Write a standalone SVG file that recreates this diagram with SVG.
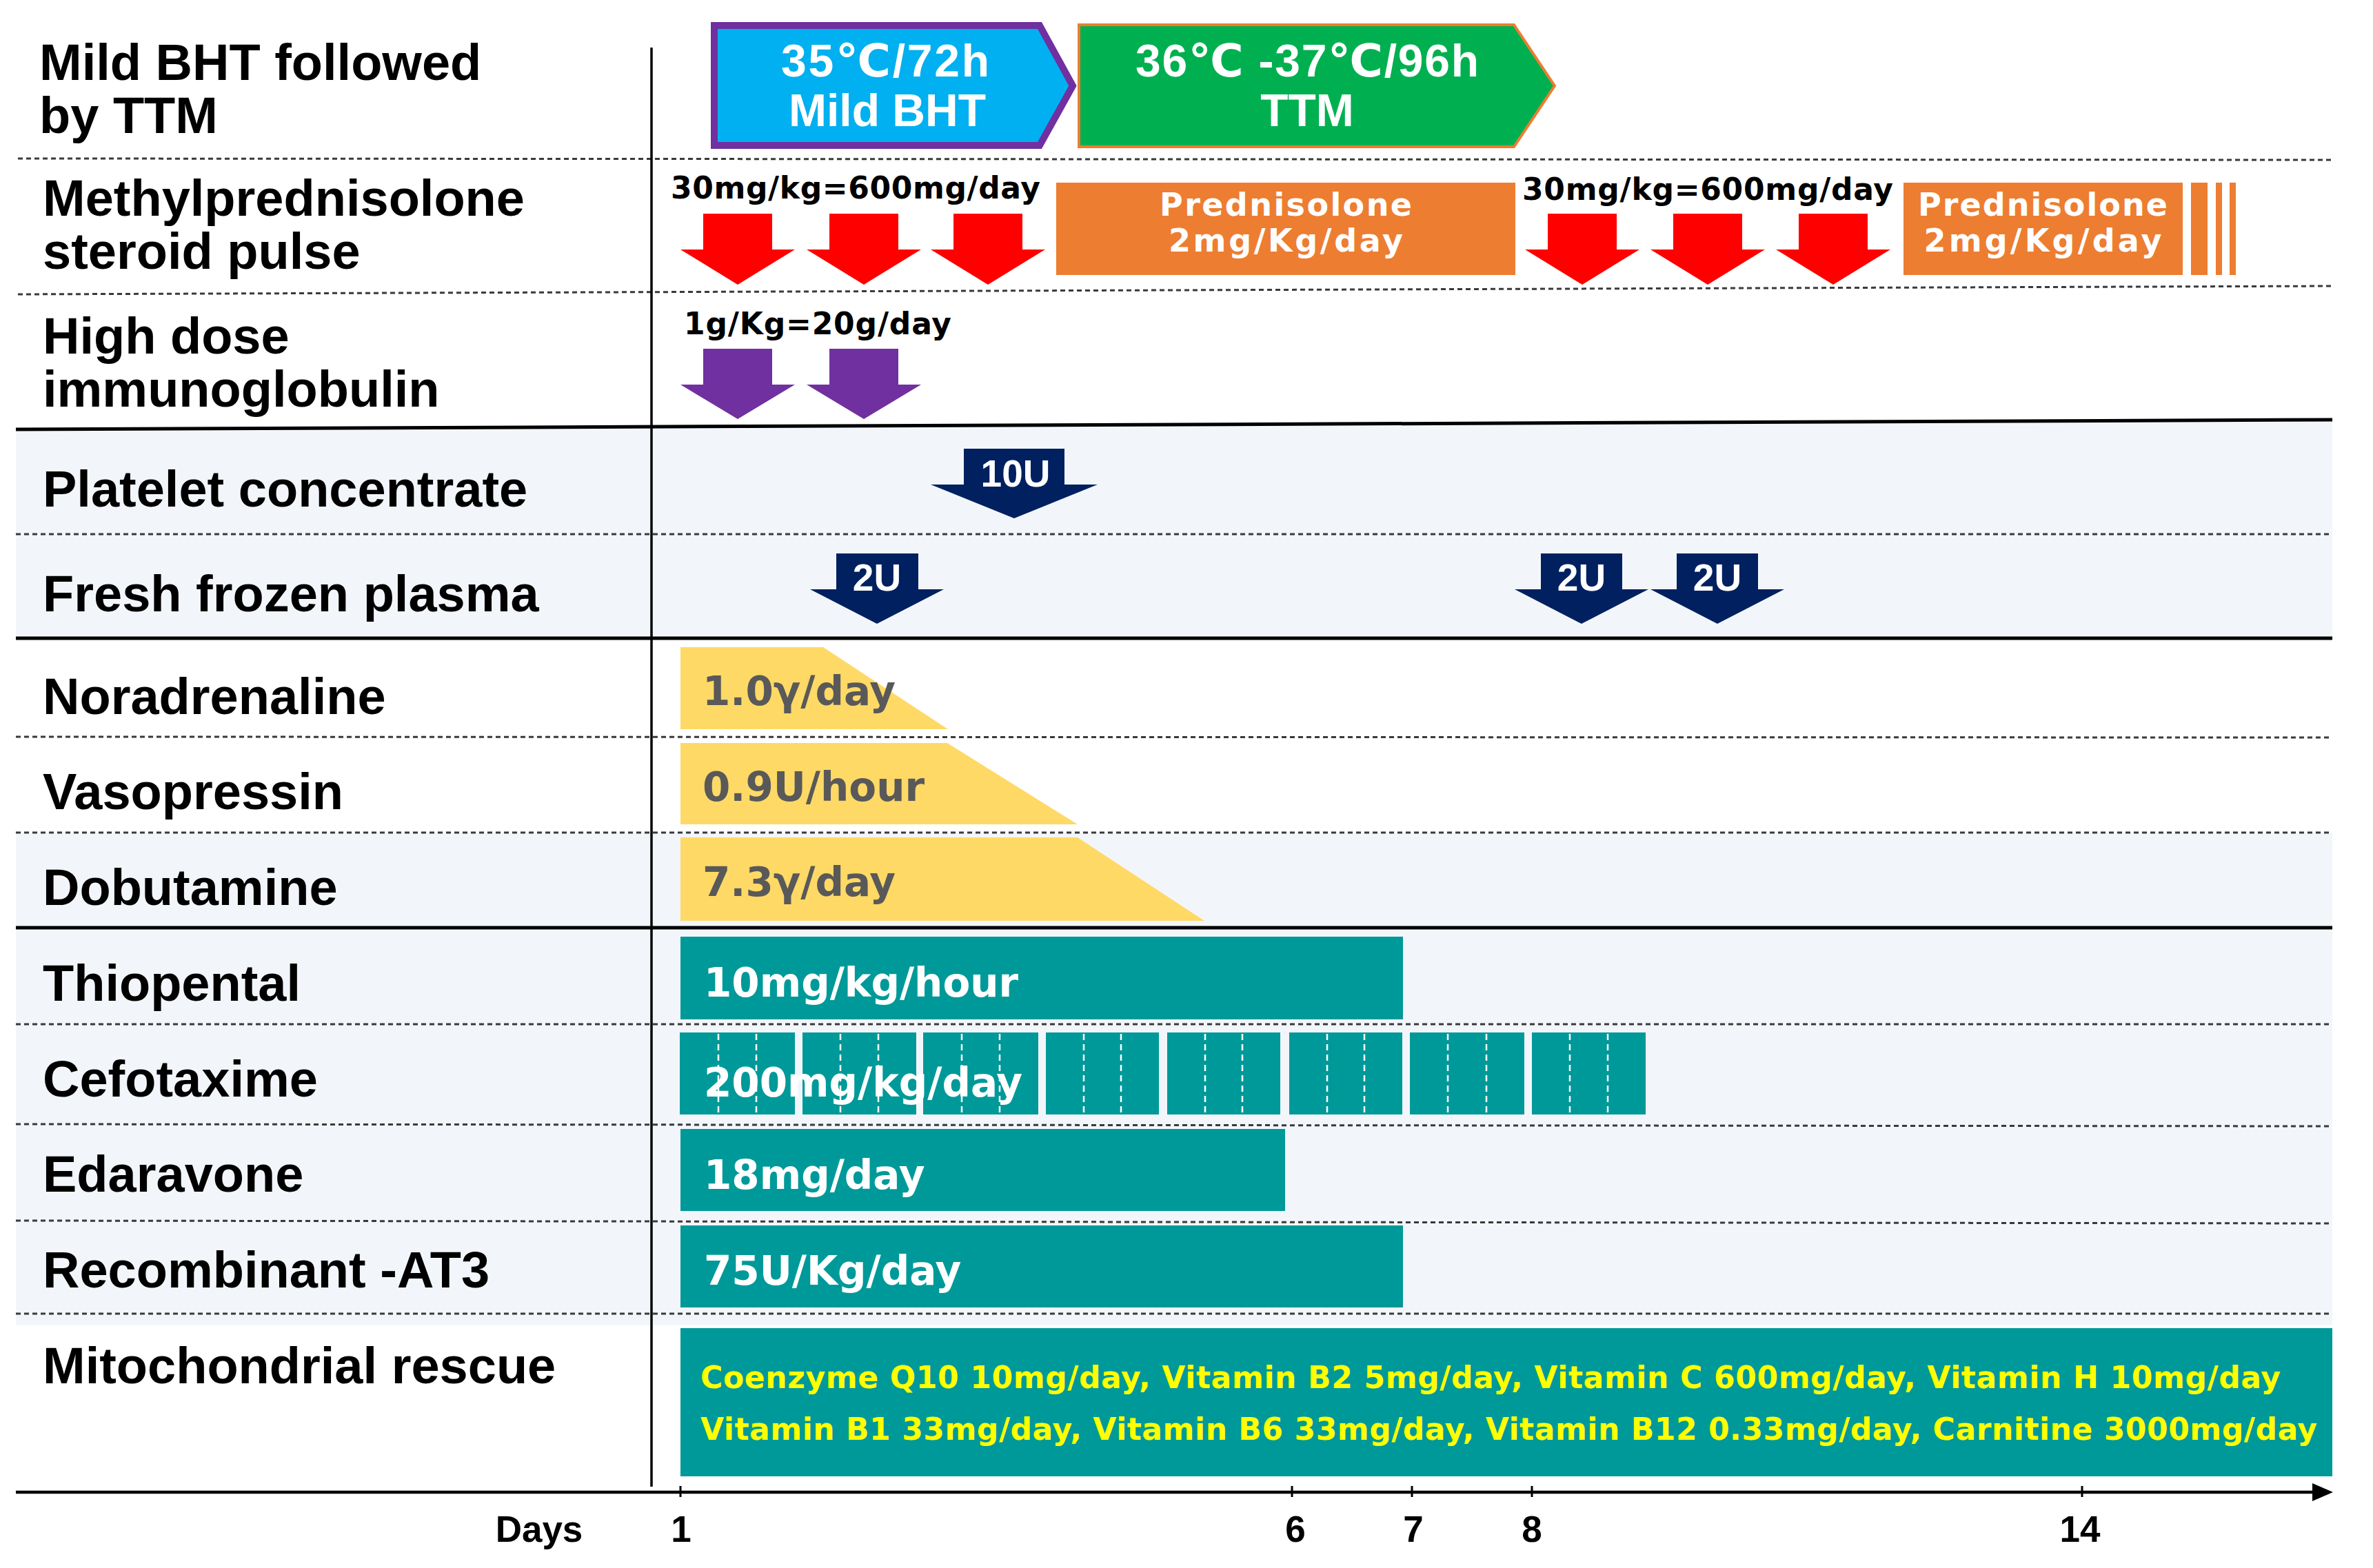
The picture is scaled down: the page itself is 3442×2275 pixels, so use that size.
<svg xmlns="http://www.w3.org/2000/svg" width="3442" height="2275" viewBox="0 0 3442 2275">
<defs>
<style>
.lbl{font-family:"Liberation Sans","DejaVu Sans",sans-serif;font-weight:bold;font-size:74px;fill:#000}
.val{font-family:"DejaVu Sans","Liberation Sans",sans-serif;font-weight:bold;font-size:58px;fill:#fff}
.yel{font-family:"DejaVu Sans","Liberation Sans",sans-serif;font-weight:bold;font-size:58px;fill:#595959}
.dose{font-family:"DejaVu Sans","Liberation Sans",sans-serif;font-weight:bold;font-size:44px;fill:#000}
.mito{font-family:"DejaVu Sans","Liberation Sans",sans-serif;font-weight:bold;font-size:44px;fill:#FFFF00}
.pent{font-family:"Liberation Sans","DejaVu Sans",sans-serif;font-weight:bold;font-size:66px;fill:#fff;text-anchor:middle}
.pred{font-family:"DejaVu Sans","Liberation Sans",sans-serif;font-weight:bold;font-size:46px;fill:#fff;text-anchor:middle}
.arl{font-family:"Liberation Sans","DejaVu Sans",sans-serif;font-weight:bold;font-size:55px;fill:#fff;text-anchor:middle}
.tick{font-family:"Liberation Sans","DejaVu Sans",sans-serif;font-weight:bold;font-size:53px;fill:#000;text-anchor:middle}
.dot{stroke:#3a3a3a;stroke-width:3;stroke-dasharray:7 5;fill:none}
.thick{stroke:#000;stroke-width:5;fill:none}
.bg{fill:#F2F6FB}
.teal{fill:#009999}
.red{fill:#FF0000}
.pur{fill:#7030A0}
.navy{fill:#002060}
.gold{fill:#FFD966}
.org{fill:#ED7D31}
.wd{stroke:#fff;stroke-width:2.5;stroke-dasharray:9 6;fill:none}
</style>
<marker id="axhead" markerUnits="userSpaceOnUse" markerWidth="30" markerHeight="26" viewBox="0 0 30 26" refX="0" refY="13" orient="auto">
<path d="M0,0 L30,13 L0,26 Z" fill="#000"/>
</marker>
</defs>
<rect x="0" y="0" width="3442" height="2275" fill="#fff"/>

<g id="backgrounds">
<polygon class="bg" points="23,623 3383,609 3383,926 23,926"/>
<rect class="bg" x="23" y="1208" width="3360" height="715"/>
</g>

<g id="grid">
<line class="dot" x1="26" y1="230" x2="3383" y2="232"/>
<line class="dot" x1="26" y1="427" x2="3383" y2="415"/>
<line class="dot" x1="23" y1="775" x2="3383" y2="775"/>
<line class="dot" x1="23" y1="1069" x2="3383" y2="1070"/>
<line class="dot" x1="23" y1="1208" x2="3383" y2="1208"/>
<line class="dot" x1="23" y1="1486" x2="3383" y2="1486"/>
<line class="dot" x1="23" y1="1631" x2="3383" y2="1634"/>
<line class="dot" x1="23" y1="1771" x2="3383" y2="1775"/>
<line class="dot" x1="23" y1="1906" x2="3383" y2="1906"/>
<line class="thick" x1="23" y1="623" x2="3383" y2="609"/>
<line class="thick" x1="23" y1="926" x2="3383" y2="926"/>
<line class="thick" x1="23" y1="1346" x2="3383" y2="1346"/>
<line stroke="#000" stroke-width="3.5" x1="945" y1="69" x2="945" y2="2157"/>
</g>

<g id="row-bht">
<text class="lbl" x="57" y="116">Mild BHT followed</text>
<text class="lbl" x="57" y="193">by TTM</text>
<path d="M1036,37 L1508,37 L1556,124.5 L1508,211 L1036,211 Z" fill="#00B0F0" stroke="#7030A0" stroke-width="10"/>
<text class="pent" x="1284" y="111" textLength="302">35℃/72h</text>
<text class="pent" x="1287" y="183">Mild BHT</text>
<path d="M1565,36 L2196,36 L2255,124.5 L2196,213 L1565,213 Z" fill="#00B050" stroke="#ED7D31" stroke-width="4"/>
<text class="pent" x="1896" y="111" textLength="498">36℃ -37℃/96h</text>
<text class="pent" x="1896" y="183">TTM</text>
</g>

<g id="row-methylpred">
<text class="lbl" x="62" y="313">Methylprednisolone</text>
<text class="lbl" x="62" y="390">steroid pulse</text>
<text class="dose" x="973" y="288" textLength="536">30mg/kg=600mg/day</text>
<path class="red" d="M1020,310 H1120 V362 H1153 L1070,413 L987,362 H1020 Z"/>
<path class="red" d="M1203,310 H1303 V362 H1336 L1253,413 L1170,362 H1203 Z"/>
<path class="red" d="M1383,310 H1483 V362 H1516 L1433,413 L1350,362 H1383 Z"/>
<rect class="org" x="1532" y="265" width="666" height="134"/>
<text class="pred" x="1865" y="313" textLength="366">Prednisolone</text>
<text class="pred" x="1865" y="365" textLength="340">2mg/Kg/day</text>
<text class="dose" x="2208" y="290" textLength="538">30mg/kg=600mg/day</text>
<path class="red" d="M2245,310 H2345 V362 H2378 L2295,413 L2212,362 H2245 Z"/>
<path class="red" d="M2427,310 H2527 V362 H2560 L2477,413 L2394,362 H2427 Z"/>
<path class="red" d="M2609,310 H2709 V362 H2742 L2659,413 L2576,362 H2609 Z"/>
<rect class="org" x="2761" y="265" width="405" height="134"/>
<rect class="org" x="3178" y="265" width="24" height="134"/>
<rect class="org" x="3214" y="265" width="9" height="134"/>
<rect class="org" x="3234" y="265" width="9" height="134"/>
<text class="pred" x="2963" y="313" textLength="362">Prednisolone</text>
<text class="pred" x="2963" y="365" textLength="345">2mg/Kg/day</text>
</g>

<g id="row-ivig">
<text class="lbl" x="62" y="513">High dose</text>
<text class="lbl" x="62" y="590">immunoglobulin</text>
<text class="dose" x="992" y="485" textLength="388">1g/Kg=20g/day</text>
<path class="pur" d="M1020,506 H1120 V558 H1153 L1070,608 L987,558 H1020 Z"/>
<path class="pur" d="M1203,506 H1303 V558 H1336 L1253,608 L1170,558 H1203 Z"/>
</g>

<g id="row-platelet">
<text class="lbl" x="62" y="735">Platelet concentrate</text>
<path class="navy" d="M1398,651 H1544 V703 H1592 L1471,752 L1350,703 H1398 Z"/>
<text class="arl" x="1473" y="706">10U</text>
</g>

<g id="row-ffp">
<text class="lbl" x="62" y="887">Fresh frozen plasma</text>
<path class="navy" d="M1213,803 H1332 V855 H1369 L1272,905 L1175,855 H1213 Z"/>
<text class="arl" x="1272" y="857">2U</text>
<path class="navy" d="M2235,803 H2353 V855 H2391 L2294,905 L2197,855 H2235 Z"/>
<text class="arl" x="2294" y="857">2U</text>
<path class="navy" d="M2432,803 H2550 V855 H2588 L2491,905 L2394,855 H2432 Z"/>
<text class="arl" x="2491" y="857">2U</text>
</g>

<g id="row-noradrenaline">
<text class="lbl" x="62" y="1036">Noradrenaline</text>
<polygon class="gold" points="987,939 1194,939 1375,1058 987,1058"/>
<text class="yel" x="1019" y="1023">1.0γ/day</text>
</g>

<g id="row-vasopressin">
<text class="lbl" x="62" y="1174">Vasopressin</text>
<polygon class="gold" points="987,1078 1374,1078 1563,1196 987,1196"/>
<text class="yel" x="1019" y="1162">0.9U/hour</text>
</g>

<g id="row-dobutamine">
<text class="lbl" x="62" y="1313">Dobutamine</text>
<polygon class="gold" points="987,1215 1563,1215 1747,1336 987,1336"/>
<text class="yel" x="1019" y="1300">7.3γ/day</text>
</g>

<g id="row-thiopental">
<text class="lbl" x="62" y="1452">Thiopental</text>
<rect class="teal" x="987" y="1359" width="1048" height="120"/>
<text class="val" x="1021" y="1446">10mg/kg/hour</text>
</g>

<g id="row-cefotaxime">
<text class="lbl" x="62" y="1591">Cefotaxime</text>
<rect class="teal" x="986" y="1498" width="167" height="119"/>
<rect class="teal" x="1164" y="1498" width="165" height="119"/>
<rect class="teal" x="1339" y="1498" width="167" height="119"/>
<rect class="teal" x="1517" y="1498" width="164" height="119"/>
<rect class="teal" x="1693" y="1498" width="164" height="119"/>
<rect class="teal" x="1870" y="1498" width="164" height="119"/>
<rect class="teal" x="2045" y="1498" width="166" height="119"/>
<rect class="teal" x="2222" y="1498" width="165" height="119"/>
<text class="val" x="1021" y="1591">200mg/kg/day</text>
<g class="wd">
<line x1="1042" y1="1500" x2="1042" y2="1615"/><line x1="1097" y1="1500" x2="1097" y2="1615"/>
<line x1="1219" y1="1500" x2="1219" y2="1615"/><line x1="1274" y1="1500" x2="1274" y2="1615"/>
<line x1="1395" y1="1500" x2="1395" y2="1615"/><line x1="1450" y1="1500" x2="1450" y2="1615"/>
<line x1="1572" y1="1500" x2="1572" y2="1615"/><line x1="1626" y1="1500" x2="1626" y2="1615"/>
<line x1="1748" y1="1500" x2="1748" y2="1615"/><line x1="1802" y1="1500" x2="1802" y2="1615"/>
<line x1="1925" y1="1500" x2="1925" y2="1615"/><line x1="1979" y1="1500" x2="1979" y2="1615"/>
<line x1="2100" y1="1500" x2="2100" y2="1615"/><line x1="2156" y1="1500" x2="2156" y2="1615"/>
<line x1="2277" y1="1500" x2="2277" y2="1615"/><line x1="2332" y1="1500" x2="2332" y2="1615"/>
</g>
</g>

<g id="row-edaravone">
<text class="lbl" x="62" y="1729">Edaravone</text>
<rect class="teal" x="987" y="1638" width="877" height="119"/>
<text class="val" x="1021" y="1725">18mg/day</text>
</g>

<g id="row-at3">
<text class="lbl" x="62" y="1868">Recombinant -AT3</text>
<rect class="teal" x="987" y="1778" width="1048" height="119"/>
<text class="val" x="1021" y="1864">75U/Kg/day</text>
</g>

<g id="row-mito">
<text class="lbl" x="62" y="2007">Mitochondrial rescue</text>
<rect class="teal" x="987" y="1927" width="2396" height="215"/>
<text class="mito" x="1016" y="2014" textLength="2292">Coenzyme Q10 10mg/day, Vitamin B2 5mg/day, Vitamin C 600mg/day, Vitamin H 10mg/day</text>
<text class="mito" x="1016" y="2089" textLength="2345">Vitamin B1 33mg/day, Vitamin B6 33mg/day, Vitamin B12 0.33mg/day, Carnitine 3000mg/day</text>
</g>

<g id="connectors">
<line x1="23" y1="2165" x2="3354" y2="2165" stroke="#000" stroke-width="4.5" marker-end="url(#axhead)"/>
<g stroke="#000" stroke-width="3">
<line x1="987" y1="2156" x2="987" y2="2172"/>
<line x1="1874" y1="2156" x2="1874" y2="2172"/>
<line x1="2048" y1="2156" x2="2048" y2="2172"/>
<line x1="2222" y1="2156" x2="2222" y2="2172"/>
<line x1="3020" y1="2156" x2="3020" y2="2172"/>
</g>
</g>

<g id="axis-labels">
<text class="tick" x="782" y="2237">Days</text>
<text class="tick" x="988" y="2237">1</text>
<text class="tick" x="1879" y="2237">6</text>
<text class="tick" x="2050" y="2237">7</text>
<text class="tick" x="2222" y="2237">8</text>
<text class="tick" x="3017" y="2237">14</text>
</g>
</svg>
